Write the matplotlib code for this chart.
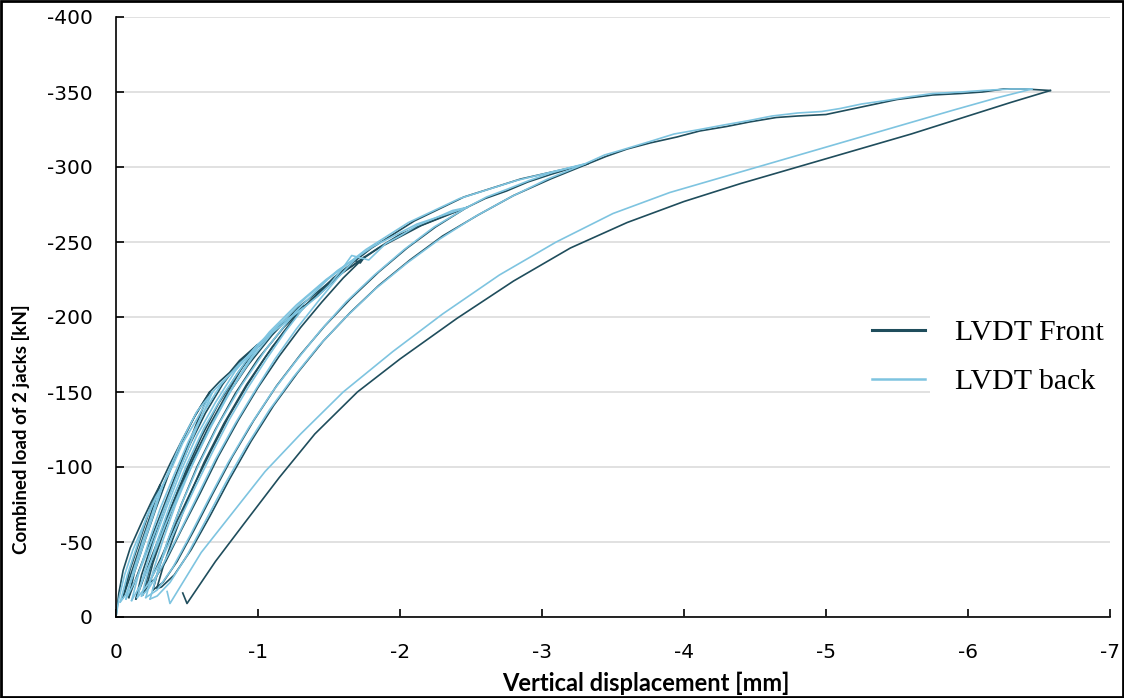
"""Cyclic load-displacement curves from the two LVDTs (front and back)."""
import matplotlib.pyplot as plt
from matplotlib.patches import Rectangle

plt.rcParams["font.family"] = ["Lato", "DejaVu Sans"]
plt.rcParams["axes.unicode_minus"] = False

FRONT = "#1f4d5c"
BACK = "#7ec4e0"

# ---- LVDT Front -------------------------------------------------------
# virgin loading branch, origin to the final peak
front_env_x = [0, -0.02, -0.05, -0.10, -0.19, -0.25, -0.31, -0.38, -0.46, -0.55,
               -0.62, -0.66, -0.73, -0.80, -0.87, -0.99, -1.08, -1.15, -1.24,
               -1.32, -1.42, -1.52, -1.62, -1.68, -1.72, -1.75, -1.88, -2.00,
               -2.12, -2.25, -2.38, -2.47, -2.60, -2.75, -2.90, -3.06, -3.20,
               -3.32, -3.45, -3.60, -3.76, -3.95, -4.11, -4.30, -4.46, -4.65,
               -4.80, -5.00, -5.15, -5.30, -5.50, -5.75, -5.95, -6.10, -6.25,
               -6.40, -6.58]
front_env_y = [0, -16, -31, -46, -65, -77, -88, -102, -117, -133,
               -144, -150, -157, -163, -171, -181, -187, -195, -200,
               -207, -214, -223, -232, -238, -236, -240, -248, -255,
               -260, -265, -270, -273, -279, -284, -290, -295, -299,
               -302, -307, -312, -316, -320, -324, -327, -330, -333,
               -334, -335, -338, -341, -345, -348, -349, -350, -352,
               -352, -351]

# unloading branches, one per cycle (peak -> residual)
front_unload_x = [
    [-0.31, -0.25, -0.18, -0.11, -0.05],
    [-0.66, -0.58, -0.50, -0.41, -0.32, -0.23, -0.15, -0.09],
    [-0.99, -0.88, -0.77, -0.66, -0.55, -0.44, -0.34, -0.25, -0.18, -0.14],
    [-1.32, -1.18, -1.05, -0.92, -0.79, -0.67, -0.55, -0.43, -0.32, -0.24,
     -0.19],
    [-1.75, -1.60, -1.45, -1.30, -1.15, -1.00, -0.86, -0.72, -0.59, -0.46,
     -0.35, -0.27, -0.22],
    [-2.47, -2.25, -2.05, -1.85, -1.65, -1.47, -1.30, -1.13, -0.97, -0.82,
     -0.68, -0.55, -0.43, -0.33, -0.26],
    [-3.32, -3.06, -2.80, -2.55, -2.30, -2.07, -1.85, -1.65, -1.46, -1.28,
     -1.11, -0.95, -0.80, -0.66, -0.53, -0.41, -0.32, -0.29],
    [-6.58, -6.30, -6.00, -5.60, -5.20, -4.80, -4.40, -4.00, -3.60, -3.20,
     -2.80, -2.40, -2.00, -1.70, -1.40, -1.15, -0.90, -0.70, -0.50, -0.47],
]
front_unload_y = [
    [-88, -70, -50, -30, -13],
    [-150, -132, -113, -92, -70, -48, -28, -13],
    [-181, -165, -147, -128, -107, -85, -62, -40, -22, -12],
    [-207, -190, -173, -154, -133, -111, -88, -64, -40, -24, -15],
    [-240, -226, -210, -193, -174, -153, -131, -107, -82, -58, -37, -25,
     -22],
    [-273, -260, -246, -230, -212, -194, -175, -154, -131, -107, -82, -58,
     -37, -23, -18],
    [-302, -292, -281, -268, -254, -238, -221, -203, -184, -163, -141, -117,
     -92, -67, -45, -28, -20, -19],
    [-351, -343, -334, -322, -311, -300, -289, -277, -263, -246, -224, -199,
     -172, -150, -122, -93, -62, -37, -9, -16],
]

# reloading branches (residual -> previous peak)
front_reload_x = [
    [-0.05, -0.10, -0.17, -0.24, -0.31],
    [-0.09, -0.13, -0.20, -0.28, -0.37, -0.46, -0.56, -0.66],
    [-0.14, -0.18, -0.25, -0.33, -0.42, -0.52, -0.63, -0.75, -0.87, -0.99],
    [-0.19, -0.23, -0.30, -0.39, -0.49, -0.60, -0.72, -0.86, -1.00, -1.16,
     -1.32],
    [-0.22, -0.26, -0.33, -0.42, -0.53, -0.65, -0.78, -0.93, -1.10, -1.28,
     -1.50, -1.75],
    [-0.26, -0.30, -0.37, -0.46, -0.57, -0.70, -0.84, -1.00, -1.18, -1.38,
     -1.60, -1.85, -2.15, -2.47],
    [-0.29, -0.33, -0.40, -0.50, -0.62, -0.76, -0.92, -1.10, -1.30, -1.53,
     -1.80, -2.10, -2.45, -2.85, -3.32],
]
front_reload_y = [
    [-13, -32, -52, -72, -88],
    [-13, -30, -50, -72, -95, -116, -135, -150],
    [-12, -28, -48, -70, -93, -115, -136, -155, -170, -181],
    [-15, -30, -50, -73, -97, -120, -142, -163, -180, -195, -207],
    [-22, -36, -55, -78, -102, -125, -147, -168, -188, -206, -223, -240],
    [-18, -32, -52, -75, -100, -125, -149, -172, -193, -212, -230, -246,
     -261, -273],
    [-20, -33, -52, -77, -103, -129, -155, -180, -204, -226, -246, -264,
     -280, -292, -302],
]

# ---- LVDT back --------------------------------------------------------
back_env_x = [0, -0.02, -0.06, -0.12, -0.21, -0.27, -0.33, -0.40, -0.47, -0.57,
              -0.64, -0.68, -0.76, -0.82, -0.88, -1.00, -1.08, -1.16, -1.25,
              -1.32, -1.41, -1.50, -1.60, -1.66, -1.70, -1.78, -1.90, -2.00,
              -2.12, -2.25, -2.37, -2.47, -2.61, -2.75, -2.91, -3.06, -3.18,
              -3.30, -3.44, -3.55, -3.76, -3.93, -4.11, -4.28, -4.46, -4.62,
              -4.80, -4.97, -5.10, -5.25, -5.40, -5.60, -5.75, -5.95, -6.10,
              -6.30, -6.45]
back_env_y = [0, -12, -28, -45, -65, -77, -88, -101, -116, -132,
              -144, -150, -158, -163, -169, -180, -188, -194, -201,
              -206, -213, -221, -233, -241, -240, -238, -249, -254,
              -261, -266, -271, -273, -280, -285, -291, -296, -299,
              -302, -308, -311, -317, -322, -325, -328, -331, -334,
              -336, -337, -339, -342, -344, -347, -349, -350, -351,
              -352, -352]

back_unload_x = [
    [-0.33, -0.27, -0.20, -0.13, -0.07, -0.03],
    [-0.68, -0.60, -0.51, -0.42, -0.33, -0.24, -0.15, -0.07],
    [-1.00, -0.89, -0.78, -0.67, -0.56, -0.45, -0.35, -0.26, -0.17, -0.11],
    [-1.32, -1.19, -1.06, -0.93, -0.80, -0.68, -0.56, -0.44, -0.33, -0.22,
     -0.15],
    [-1.70, -1.56, -1.42, -1.27, -1.12, -0.98, -0.84, -0.70, -0.57, -0.44,
     -0.32, -0.23, -0.18],
    [-2.47, -2.24, -2.03, -1.82, -1.62, -1.44, -1.27, -1.10, -0.94, -0.79,
     -0.65, -0.52, -0.40, -0.29, -0.21],
    [-3.30, -3.04, -2.78, -2.53, -2.28, -2.05, -1.83, -1.62, -1.43, -1.25,
     -1.08, -0.92, -0.77, -0.63, -0.50, -0.38, -0.29, -0.24],
    [-6.45, -6.20, -5.90, -5.50, -5.10, -4.70, -4.30, -3.90, -3.50, -3.10,
     -2.70, -2.30, -1.95, -1.60, -1.30, -1.05, -0.80, -0.60, -0.38, -0.36],
]
back_unload_y = [
    [-88, -70, -50, -30, -15, -10],
    [-150, -133, -113, -92, -70, -48, -27, -12],
    [-180, -164, -146, -127, -106, -84, -62, -40, -21, -11],
    [-206, -190, -172, -153, -132, -110, -87, -63, -40, -21, -13],
    [-240, -226, -210, -192, -172, -151, -129, -105, -80, -55, -33, -19,
     -14],
    [-273, -260, -245, -228, -210, -191, -171, -150, -127, -103, -78, -54,
     -33, -18, -13],
    [-302, -292, -280, -267, -252, -236, -219, -200, -181, -160, -138, -114,
     -89, -64, -41, -23, -14, -12],
    [-352, -346, -338, -327, -316, -305, -294, -283, -269, -250, -228, -202,
     -177, -150, -122, -97, -67, -43, -9, -17],
]

back_reload_x = [
    [-0.03, -0.08, -0.15, -0.22, -0.28, -0.33],
    [-0.07, -0.12, -0.19, -0.27, -0.36, -0.46, -0.57, -0.68],
    [-0.11, -0.16, -0.23, -0.31, -0.41, -0.51, -0.62, -0.74, -0.87, -1.00],
    [-0.15, -0.20, -0.27, -0.36, -0.46, -0.57, -0.70, -0.84, -0.99, -1.15,
     -1.32],
    [-0.18, -0.23, -0.30, -0.39, -0.50, -0.62, -0.76, -0.91, -1.08, -1.27,
     -1.48, -1.70],
    [-0.21, -0.26, -0.33, -0.42, -0.53, -0.66, -0.80, -0.96, -1.14, -1.34,
     -1.56, -1.81, -2.12, -2.47],
    [-0.24, -0.29, -0.36, -0.46, -0.58, -0.72, -0.88, -1.06, -1.26, -1.49,
     -1.76, -2.06, -2.42, -2.82, -3.30],
]
back_reload_y = [
    [-10, -28, -48, -68, -80, -88],
    [-12, -30, -51, -73, -95, -117, -137, -150],
    [-11, -29, -50, -72, -95, -117, -137, -155, -169, -180],
    [-13, -30, -51, -74, -98, -121, -143, -164, -181, -195, -206],
    [-14, -32, -53, -77, -102, -126, -149, -170, -190, -208, -225, -240],
    [-13, -30, -51, -75, -100, -126, -150, -173, -194, -213, -231, -247,
     -262, -273],
    [-12, -29, -50, -75, -101, -128, -154, -179, -203, -225, -245, -263,
     -279, -291, -302],
]

x_ticks = [0, -1, -2, -3, -4, -5, -6, -7]
y_ticks = [0, -50, -100, -150, -200, -250, -300, -350, -400]


def draw_series(ax, env_x, env_y, unl_x, unl_y, rel_x, rel_y, color, label):
    line, = ax.plot(env_x, env_y, color=color, lw=1.2, label=label, zorder=2)
    for xs, ys in zip(unl_x, unl_y):
        ax.plot(xs, ys, color=color, lw=1.2, zorder=2)
    for xs, ys in zip(rel_x, rel_y):
        ax.plot(xs, ys, color=color, lw=1.2, zorder=2)
    return line


fig = plt.figure(figsize=(11.24, 6.98), dpi=100)
ax = fig.add_axes([116 / 1124, 81 / 698, 994 / 1124, 600 / 698])

h_front = draw_series(ax, front_env_x, front_env_y, front_unload_x,
                      front_unload_y, front_reload_x, front_reload_y,
                      FRONT, "LVDT Front")
h_back = draw_series(ax, back_env_x, back_env_y, back_unload_x,
                     back_unload_y, back_reload_x, back_reload_y,
                     BACK, "LVDT back")

ax.set_xlim(0, -7)
ax.set_ylim(0, -400)
ax.set_xticks(x_ticks)
ax.set_yticks(y_ticks)
ax.set_axisbelow(True)
ax.yaxis.grid(True, color="#d9d9d9", lw=1.1)

for side in ("top", "right"):
    ax.spines[side].set_visible(False)
for side in ("left", "bottom"):
    ax.spines[side].set_linewidth(1.2)
    ax.spines[side].set_color("black")

ax.tick_params(axis="both", direction="in", length=6, width=1.2,
               labelsize=14.5, colors="black")
ax.tick_params(axis="x", pad=19)
ax.tick_params(axis="y", pad=17)
for lab in ax.get_xticklabels() + ax.get_yticklabels():
    lab.set_family("DejaVu Sans")

ax.set_xlabel("Vertical displacement [mm]", fontsize=17, fontweight="bold")
ax.set_ylabel("Combined load of 2 jacks [kN]", fontsize=13.5,
              fontweight="bold")
ax.xaxis.set_label_coords(0.533, -0.11)
ax.xaxis.label.set_verticalalignment("center")
ax.yaxis.set_label_coords(-0.0956, 0.313)
ax.yaxis.label.set_verticalalignment("center")

# blank the gridlines behind the legend text
ax.add_patch(Rectangle((-5.73, -141), -1.27, -70, facecolor="white",
                       edgecolor="none", zorder=1))

leg = ax.legend([h_front, h_back], ["LVDT Front", "LVDT back"],
                loc="center left", bbox_to_anchor=(872 / 1124, 1 - 357 / 698),
                bbox_transform=fig.transFigure, frameon=False,
                prop={"family": "Liberation Serif", "size": 21.5},
                handlelength=1.77, handletextpad=1.0, labelspacing=0.74,
                borderpad=0, borderaxespad=0)
leg.get_lines()[0].set_linewidth(2.2)
leg.get_lines()[1].set_linewidth(1.8)

# outer frame around the whole figure
fig.add_artist(Rectangle((0.00125, 0.002), 0.9975, 0.996,
                         transform=fig.transFigure, fill=False,
                         edgecolor="black", lw=2.0))

fig.savefig("out.png", dpi=100, facecolor="white")
